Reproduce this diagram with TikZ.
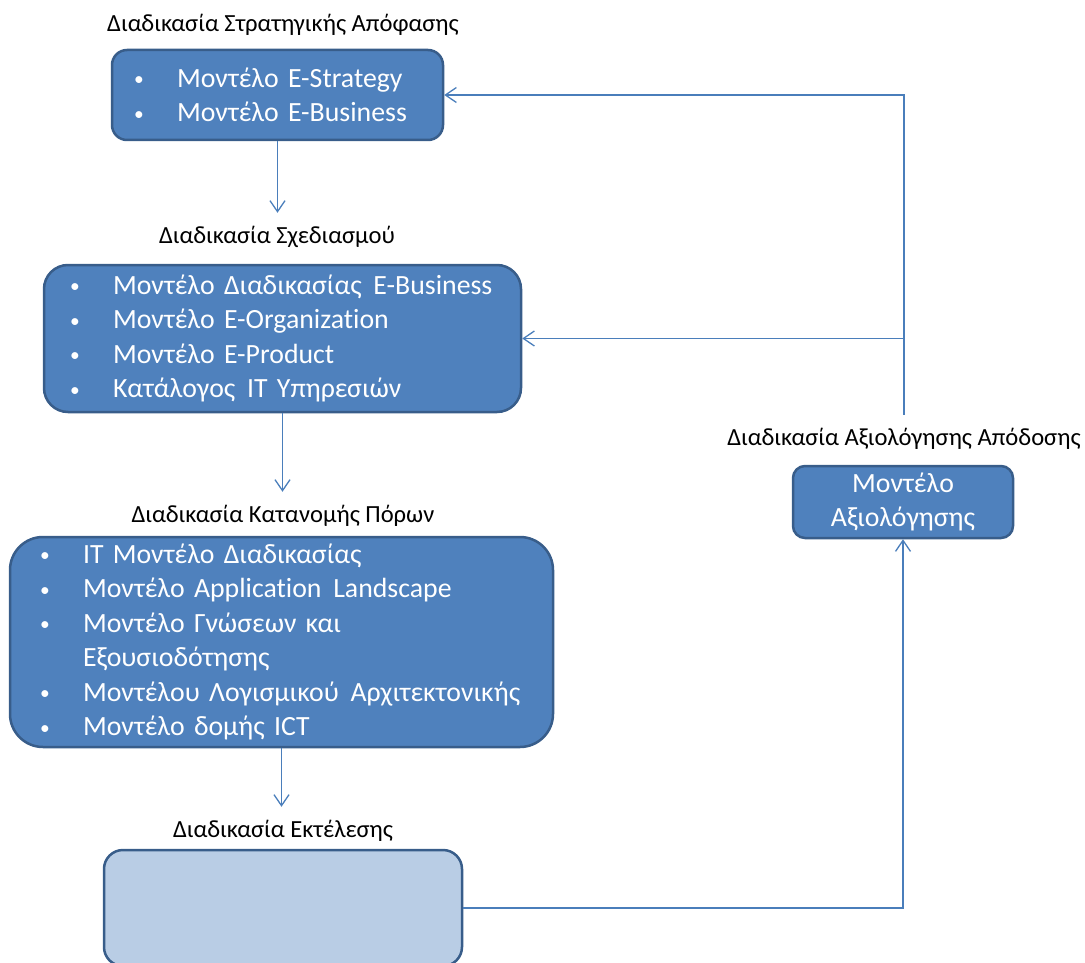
\documentclass[tikz,border=0pt]{standalone}
\usepackage{fontspec}
\setmainfont{Carlito}[Ligatures=NoCommon]
\usetikzlibrary{arrows.meta}
\definecolor{boxfill}{HTML}{4F81BD}
\definecolor{boxline}{HTML}{385D8A}
\definecolor{boxlight}{HTML}{B9CDE5}
\definecolor{wire}{HTML}{4A7EBB}
\newcommand{\blt}[1]{\makebox[44pt][l]{\hspace*{1pt}\raisebox{1.5pt}{\scalebox{0.7}{•}}}#1}
\newcommand{\gap}{\ \hspace{2.5pt}}
\tikzset{
	proc/.style={draw=boxline, fill=boxfill, line width=2.5pt, text=white, align=left, inner ysep=0pt, font=\fontsize{27.8}{34.5}\selectfont},
	caption/.style={font=\fontsize{24.6}{29}\selectfont, text height=20pt, text depth=6pt, inner xsep=0pt, inner ysep=10pt, anchor=base},
	link/.style={draw=wire, line width=1.3pt},
}
\begin{document}
\begin{tikzpicture}[x=1pt, y=-1pt, >={Straight Barb[length=11pt,width=15pt]}]
		\useasboundingbox (0,0) rectangle (1085,963);
		\begin{scope}[every node/.append style={caption}]
			\node (l0) at (283, 32) {Διαδικασία Στρατηγικής Απόφασης};
			\node (l1) at (277, 243) {Διαδικασία Σχεδιασμού};
			\node (l2) at (283, 522) {Διαδικασία Κατανομής Πόρων};
			\node (l3) at (283, 837) {Διαδικασία Εκτέλεσης};
			\node (l4) at (904, 445) {Διαδικασία Αξιολόγησης Απόδοσης};
		\end{scope}

		\node[proc, text width=289pt, inner xsep=21pt, minimum height=90pt, rounded corners=15pt] (0) at (277.5, 95)
			{\blt{Μοντέλο E-Strategy}\\\blt{Μοντέλο E-Business}};
		\node[proc, text width=427pt, inner xsep=25pt, minimum height=147pt, rounded corners=24pt] (1) at (282.5, 338.5)
			{\blt{Μοντέλο Διαδικασίας\gap E-Business}\\\blt{Μοντέλο E-Organization}\\\blt{Μοντέλο E-Product}\\\blt{Κατάλογος\gap IT Υπηρεσιών}};
		\node[proc, text width=485pt, inner xsep=29pt, minimum height=210pt, rounded corners=33pt] (2) at (281.5, 642)
			{\blt{IT Μοντέλο Διαδικασίας}\\\blt{Μοντέλο Application\gap Landscape}\\\blt{Μοντέλο Γνώσεων και}\\\hspace*{44pt}Εξουσιοδότησης\\\blt{Μοντέλου Λογισμικού\gap Αρχιτεκτονικής}\\\blt{Μοντέλο δομής ICT}};
		\node[proc, fill=boxlight, minimum width=358pt, minimum height=116pt, rounded corners=19pt] (3) at (283, 908) {};
		\node[proc, align=center, text width=200pt, inner xsep=10pt, minimum height=72pt, rounded corners=12pt] (4) at (903, 502)
			{Μοντέλο\\Αξιολόγησης};

		\draw[link, ->] (0.south) -- (0.south |- l1.north);
		\draw[link, ->] (1.south) -- (1.south |- l2.north);
		\draw[link, ->] (2.south) -- (2.south |- l3.north);
		\draw[link, ->] (3.east) -- (3.east -| 4.south) -- (4.south);
		\draw[link, ->] (l4.north) -- (l4.north |- 0.east) -- (0.east);
		\draw[link, ->] (l4.north |- 1.east) -- (1.east);
	\end{tikzpicture}
\end{document}
